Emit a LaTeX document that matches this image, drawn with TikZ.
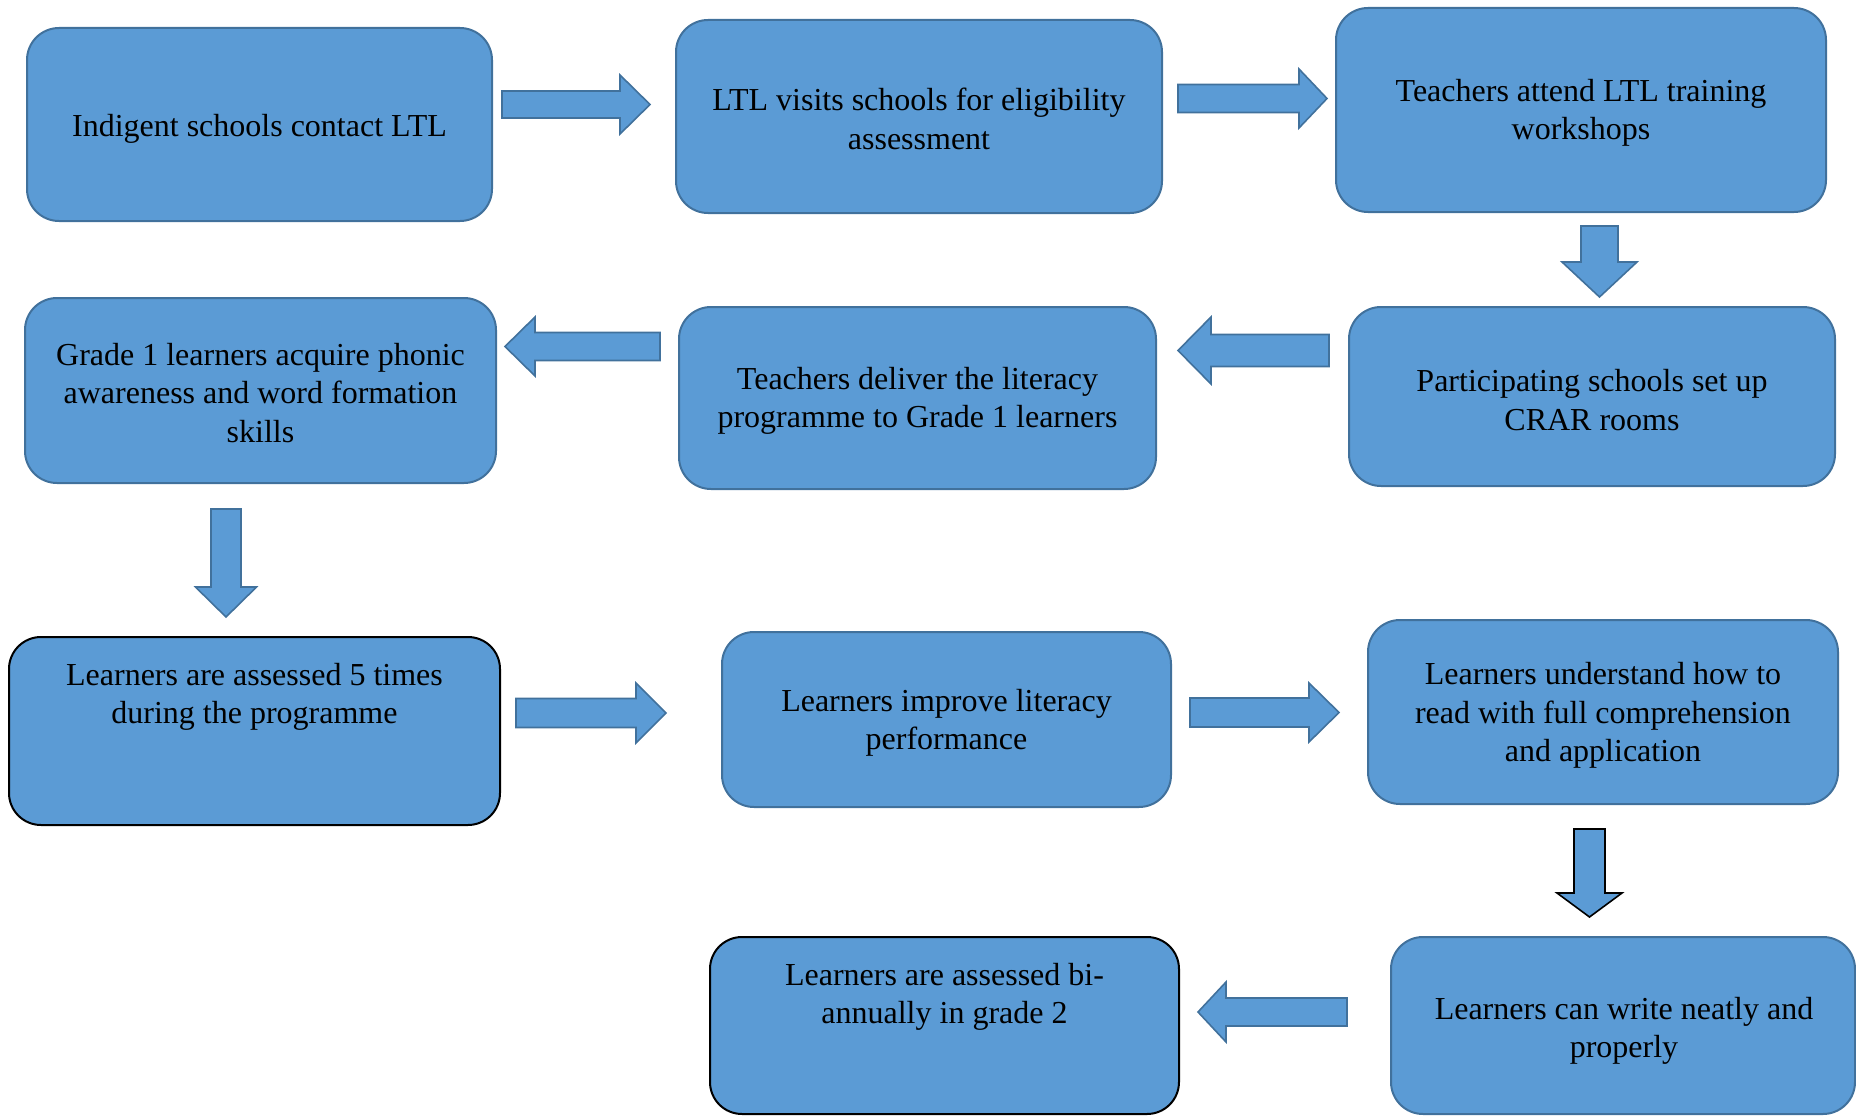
\documentclass[tikz,border=0pt]{standalone}
\usepackage{fontspec}
\setmainfont{Liberation Serif}
\usetikzlibrary{fit}
\definecolor{boxfill}{HTML}{5B9BD5}
\definecolor{boxline}{HTML}{41719C}
\tikzset{
  box/.style={draw=boxline, fill=boxfill, line width=2pt, rounded corners=32pt, inner sep=0pt, outer sep=0pt},
  darkbox/.style={box, draw=black},
  txt/.style={align=center, font=\fontsize{32}{38.3}\selectfont, text=black, inner sep=0pt},
  barrow/.style={draw=boxline, fill=boxfill, line width=1.6pt, line join=miter},
  darkarrow/.style={barrow, draw=black}
}
% horizontal block arrow: tail x, head-base x, tip x, centre y, shaft half width, head half width
\newcommand\harrow[7][barrow]{%
  \draw[#1] ({#2},{#5-#6}) -- ({#3},{#5-#6}) -- ({#3},{#5-#7}) -- ({#4},{#5})
    -- ({#3},{#5+#7}) -- ({#3},{#5+#6}) -- ({#2},{#5+#6}) -- cycle;}
% vertical block arrow: tail y, head-base y, tip y, centre x, shaft half width, head half width
\newcommand\varrow[7][barrow]{%
  \draw[#1] ({#5-#6},{#2}) -- ({#5-#6},{#3}) -- ({#5-#7},{#3}) -- ({#5},{#4})
    -- ({#5+#7},{#3}) -- ({#5+#6},{#3}) -- ({#5+#6},{#2}) -- cycle;}
\begin{document}
\begin{tikzpicture}[x=1pt,y=-1pt]
\useasboundingbox (0,0) rectangle (1856,1116);
% boxes
\node[box, fit={(27,28) (492,221)}] (b1) {};
\node[box, fit={(676,20) (1162,213)}] (b2) {};
\node[box, fit={(1336,8) (1826,212)}] (b3) {};
\node[box, fit={(25,298) (496,483)}] (b4) {};
\node[box, fit={(679,307) (1156,489)}] (b5) {};
\node[box, fit={(1349,307) (1835,486)}] (b6) {};
\node[darkbox, fit={(9,637) (500,825)}] (b7) {};
\node[box, fit={(722,632) (1171,807)}] (b8) {};
\node[box, fit={(1368,620) (1838,804)}] (b9) {};
\node[box, fit={(1391,937) (1855,1114)}] (b10) {};
\node[darkbox, fit={(710,937) (1179,1114)}] (b11) {};
% texts
\node[txt] (t1) at (259.5,128.5) {Indigent schools contact LTL};
\node[txt] (t2) at (919,119) {LTL visits schools for eligibility\\assessment};
\node[txt] (t3) at (1581,113) {Teachers attend LTL training\\workshops};
\node[txt] (t4) at (260.5,393) {Grade 1 learners acquire phonic\\awareness and word formation\\skills};
\node[txt] (t5) at (917.5,401) {Teachers deliver the literacy\\programme to Grade 1 learners};
\node[txt] (t6) at (1592,400) {Participating schools set up\\CRAR rooms};
\node[txt] (t7) at (254.5,697) {Learners are assessed 5 times\\during the programme};
\node[txt] (t8) at (946.5,723) {Learners improve literacy\\performance};
\node[txt] (t9) at (1603,715.5) {Learners understand how to\\read with full comprehension\\and application};
\node[txt] (t10) at (1624,1031) {Learners can write neatly and\\properly};
\node[txt] (t11) at (944.5,997) {Learners are assessed bi-\\annually in grade 2};
% block arrows
\harrow{502}{620}{650}{104.5}{13.5}{29.5}
\harrow{1178}{1299}{1327}{98.5}{14}{29.5}
\varrow{226}{262}{297}{1599.5}{18.5}{37.5}
\harrow{1329}{1211}{1178}{350.5}{16}{33.5}
\harrow{660}{535}{505}{346.5}{14}{29.5}
\varrow{509}{587}{617}{226}{15}{30.5}
\harrow{516}{636}{666}{713}{14.5}{30}
\harrow{1190}{1309}{1339}{712.5}{14.5}{29.5}
\varrow[darkarrow]{829}{893}{917}{1589.5}{15.5}{32.5}
\harrow{1347}{1226}{1198}{1012}{14}{30}
\end{tikzpicture}
\end{document}
